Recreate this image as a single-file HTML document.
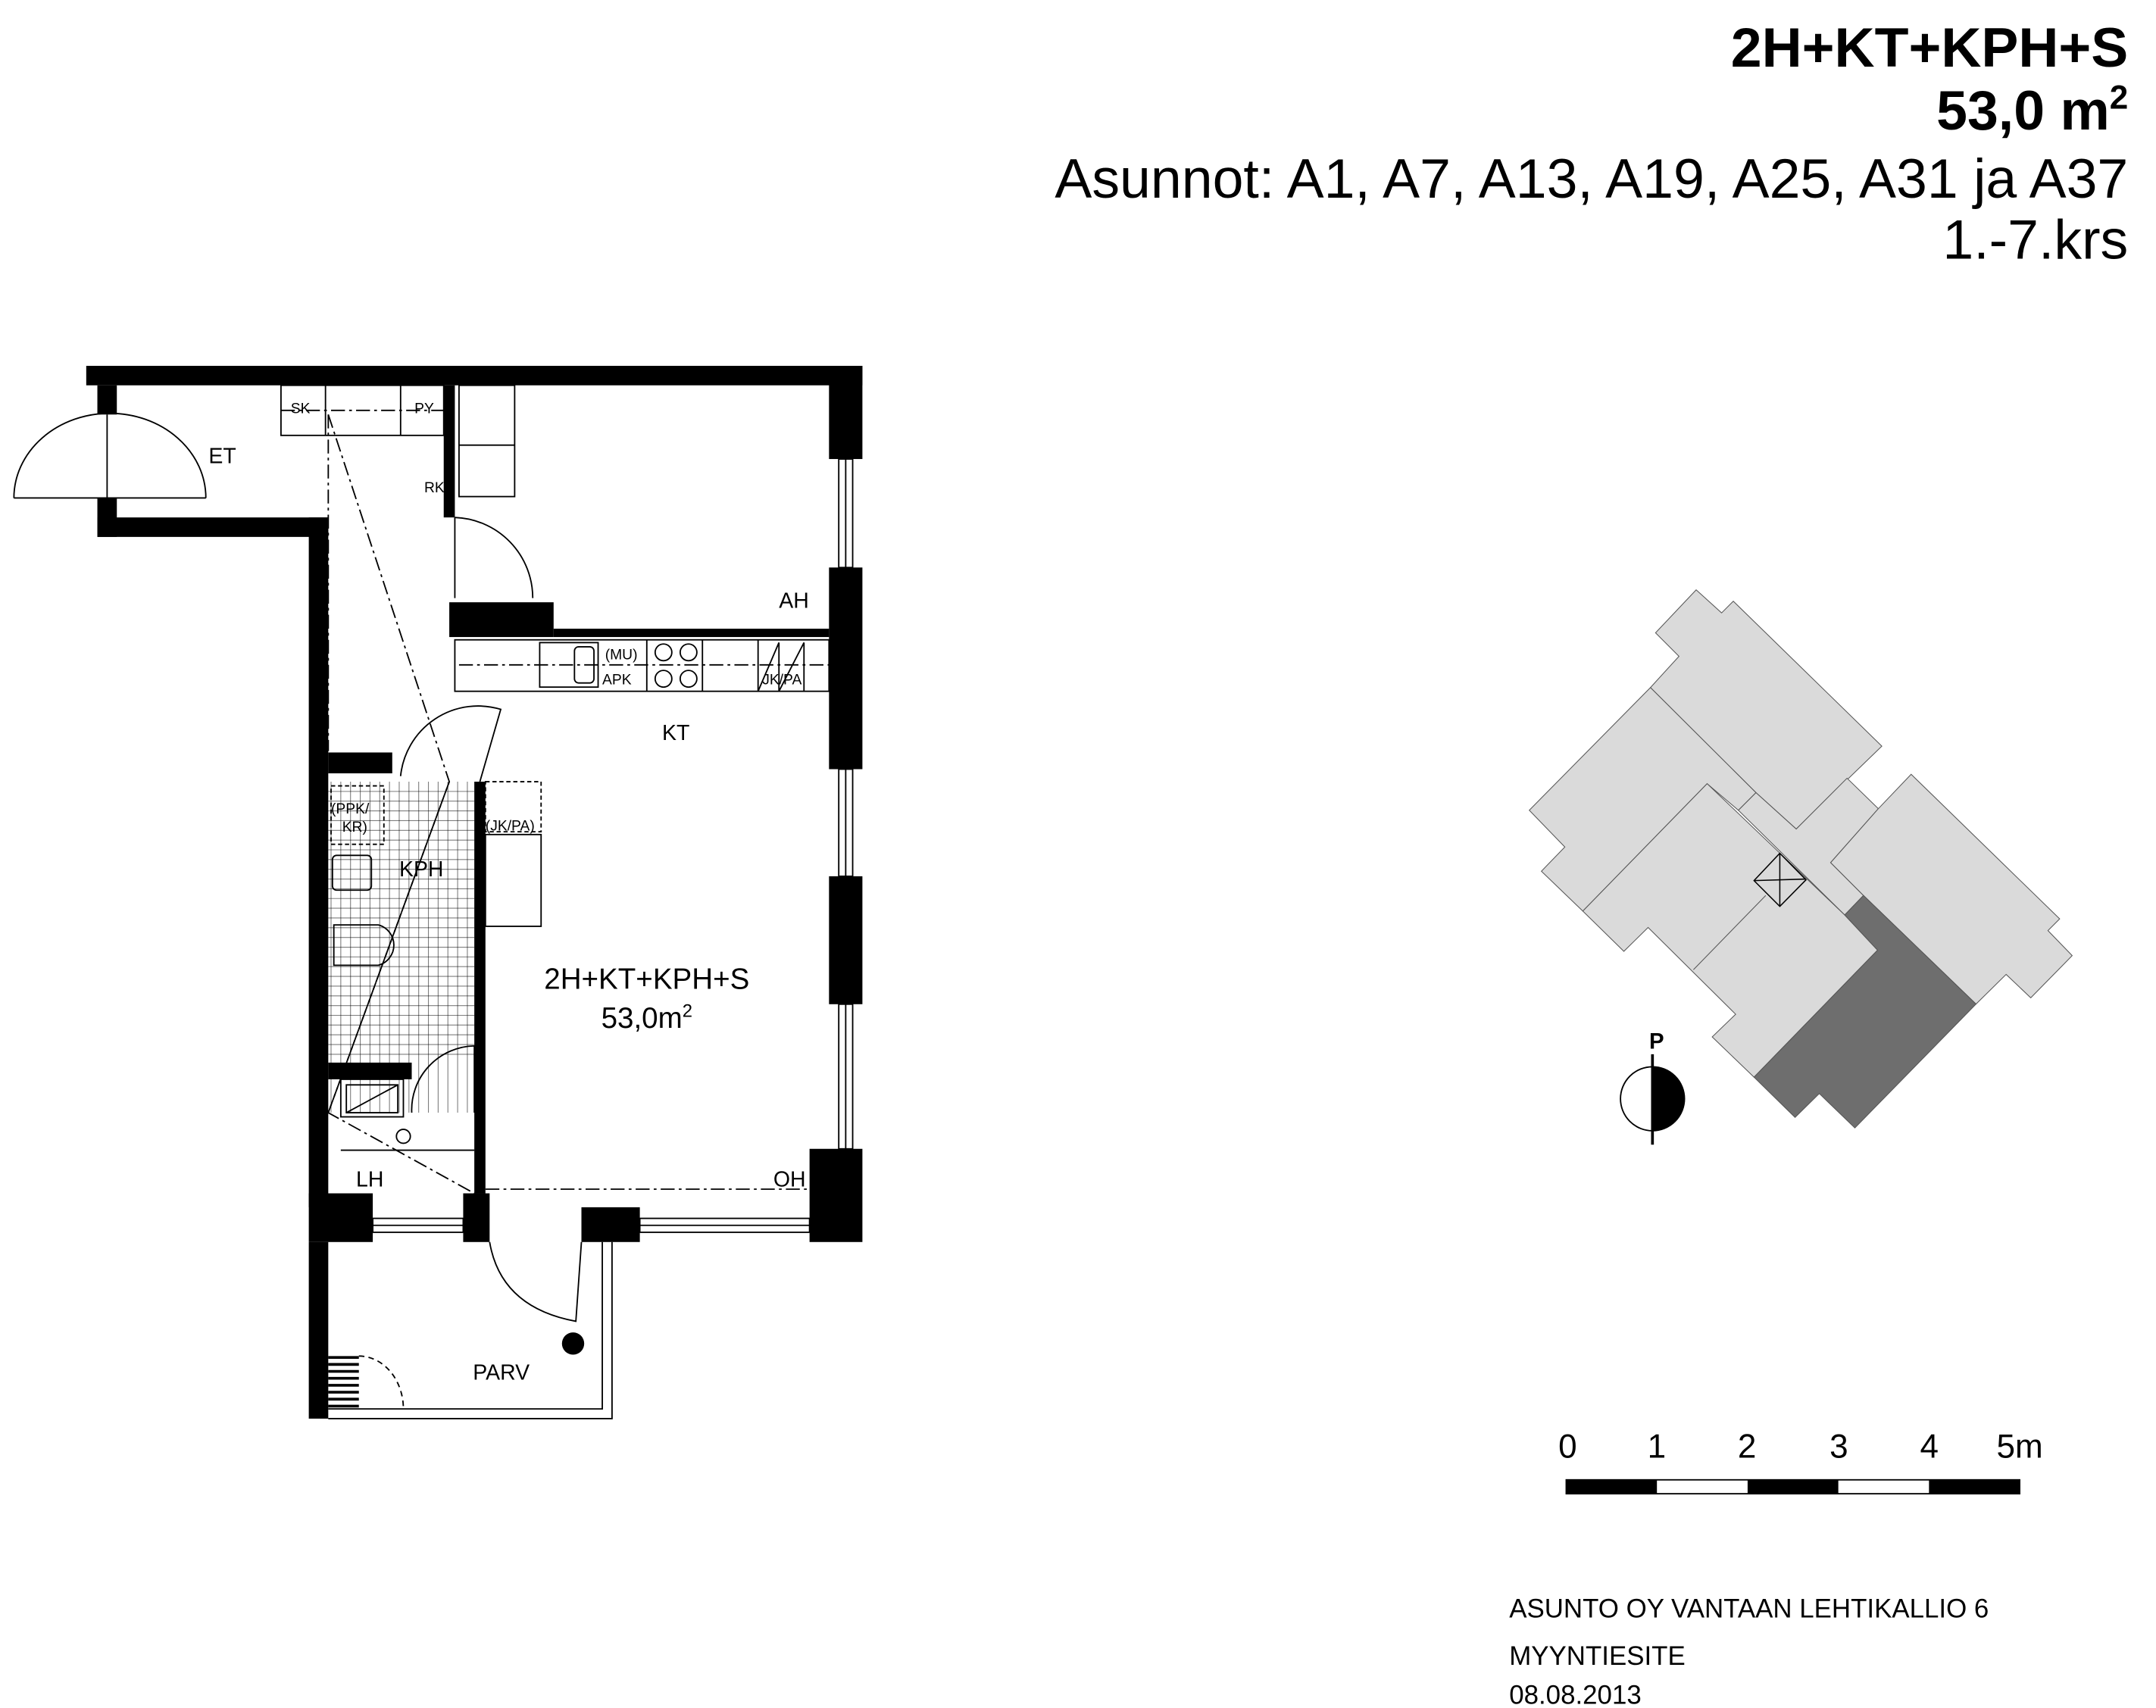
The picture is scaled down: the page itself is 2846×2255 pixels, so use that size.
<!DOCTYPE html>
<html><head><meta charset="utf-8"><style>html,body{margin:0;padding:0;background:#fff}svg{display:block}text{font-family:"Liberation Sans",sans-serif}</style></head>
<body>
<svg width="2846" height="2255" viewBox="0 0 1550 1228" xmlns="http://www.w3.org/2000/svg">
<rect width="1550" height="1228" fill="#fff"/>
<!-- Title -->
<g text-anchor="end" fill="#000">
<text x="1530" y="48" font-size="40" font-weight="bold">2H+KT+KPH+S</text>
<text x="1530" y="93" font-size="40" font-weight="bold">53,0 m<tspan font-size="24" dy="-15">2</tspan></text>
<text x="1530" y="142" font-size="40">Asunnot: A1, A7, A13, A19, A25, A31 ja A37</text>
<text x="1530" y="186" font-size="40">1.-7.krs</text>
</g>
<!-- Plan -->
<g fill="#000">
<rect x="62" y="263" width="558" height="14"/>
<rect x="596" y="263" width="24" height="67"/>
<rect x="596" y="408" width="24" height="145"/>
<rect x="596" y="630" width="24" height="92"/>
<rect x="582" y="826" width="38" height="67"/>
<rect x="70" y="277" width="14" height="21"/>
<rect x="70" y="358" width="14" height="28"/>
<rect x="70" y="372" width="166" height="14"/>
<rect x="222" y="372" width="14" height="496"/>
<rect x="222" y="858" width="46" height="35"/>
<rect x="222" y="893" width="14" height="127"/>
<rect x="236" y="541" width="46" height="15"/>
<rect x="341" y="562" width="8" height="296"/>
<rect x="333" y="858" width="19" height="35"/>
<rect x="418" y="868" width="42" height="25"/>
<rect x="323" y="433" width="75" height="25"/>
<rect x="398" y="452" width="198" height="6"/>
<rect x="319" y="277" width="8" height="95"/>
<rect x="236" y="764" width="60" height="12"/>
<circle cx="412" cy="966" r="8"/>
</g>
<g fill="none" stroke="#000" stroke-width="1">
<rect x="603" y="330" width="10" height="78"/><line x1="608" y1="330" x2="608" y2="408"/>
<rect x="603" y="553" width="10" height="77"/><line x1="608" y1="553" x2="608" y2="630"/>
<rect x="603" y="722" width="10" height="104"/><line x1="608" y1="722" x2="608" y2="826"/>
<rect x="268" y="876" width="65" height="10"/><line x1="268" y1="881" x2="333" y2="881"/>
<rect x="460" y="876" width="122" height="10"/><line x1="460" y1="881" x2="582" y2="881"/>
<path d="M10,358 A68,60 0 0 1 148,358"/><line x1="77" y1="298" x2="77" y2="358"/><line x1="10" y1="358" x2="148" y2="358"/>
<rect x="202" y="277" width="117" height="36"/><line x1="234" y1="277" x2="234" y2="313"/><line x1="288" y1="277" x2="288" y2="313"/>
<rect x="330" y="277" width="40" height="80"/><line x1="330" y1="320" x2="370" y2="320"/>
<path d="M327,372 A58,58 0 0 1 383,430"/><line x1="327" y1="372" x2="327" y2="430"/>
<path d="M288,558 A56,56 0 0 1 360,510 L345,562"/>
<path d="M296,800 A46,46 0 0 1 341,752 L341,800"/>
<path d="M352,893 Q360,940 414,950 L418,893"/>
<rect x="327" y="460" width="269" height="37"/>
<rect x="388" y="462" width="42" height="32"/><rect x="413" y="465" width="14" height="26" rx="3"/>
<line x1="465" y1="460" x2="465" y2="497"/><line x1="505" y1="460" x2="505" y2="497"/><line x1="545" y1="460" x2="545" y2="497"/>
<circle cx="477" cy="469" r="6"/><circle cx="495" cy="469" r="6"/><circle cx="477" cy="488" r="6"/><circle cx="495" cy="488" r="6"/>
<path d="M545,497 L560,462 L560,497 L578,462 L578,497"/>
<rect x="239" y="615" width="28" height="25" rx="3"/>
<path d="M240,665 L272,665 A15,15 0 0 1 272,694 L240,694 Z"/>
<rect x="349" y="600" width="40" height="66"/>
<rect x="245" y="776" width="45" height="27"/><path d="M249,780 L286,780 L286,800 L249,800 Z M249,800 L286,780"/>
<line x1="245" y1="827" x2="341" y2="827"/>
<circle cx="290" cy="817" r="5"/>
<path d="M236,1013 L433,1013 L433,893 M440,893 L440,1020 L236,1020"/>
<path d="M258,975 A32,38 0 0 1 290,1013" stroke-dasharray="4,3"/>
</g>
<g stroke="#000" stroke-width="0.6">
<path d="M238,562 V800 M245,562 V800 M252,562 V800 M259,562 V800 M266,562 V800 M273,562 V800 M280,562 V800 M287,562 V800 M294,562 V800 M301,562 V800 M308,562 V800 M315,562 V800 M322,562 V800 M329,562 V800 M336,562 V800" opacity="0.5"/>
<path d="M236,569 H341 M236,576 H341 M236,583 H341 M236,590 H341 M236,597 H341 M236,604 H341 M236,611 H341 M236,618 H341 M236,625 H341 M236,632 H341 M236,639 H341 M236,646 H341 M236,653 H341 M236,660 H341 M236,667 H341 M236,674 H341 M236,681 H341 M236,688 H341 M236,695 H341 M236,702 H341 M236,709 H341 M236,716 H341 M236,723 H341 M236,730 H341 M236,737 H341 M236,744 H341 M236,751 H341 M236,758 H341" opacity="0.5"/>
<path d="M236,976 H258 M236,981 H258 M236,986 H258 M236,991 H258 M236,996 H258 M236,1001 H258 M236,1006 H258 M236,1011 H258" stroke-width="2"/>
</g>
<g fill="none" stroke="#000" stroke-width="1" stroke-dasharray="10,3,2,3">
<path d="M236,298 L323,562 L236,800"/>
<path d="M236,298 L236,540"/>
<path d="M323,562 L236,800 L341,858"/>
<line x1="330" y1="478" x2="596" y2="478"/>
<line x1="349" y1="855" x2="596" y2="855"/>
<line x1="202" y1="295" x2="319" y2="295"/>
</g>
<g fill="none" stroke="#000" stroke-width="1" stroke-dasharray="3,2">
<rect x="238" y="565" width="38" height="42"/>
<rect x="349" y="562" width="40" height="36"/>
</g>
<g fill="#000" font-size="15.5">
<text x="150" y="333">ET</text>
<text x="560" y="437">AH</text>
<text x="476" y="532">KT</text>
<text x="287" y="630">KPH</text>
<text x="256" y="853">LH</text>
<text x="556" y="853">OH</text>
<text x="340" y="992">PARV</text>
<text x="465" y="711" font-size="21" text-anchor="middle">2H+KT+KPH+S</text>
<text x="465" y="739" font-size="21" text-anchor="middle">53,0m<tspan font-size="13" dy="-8">2</tspan></text>
<g font-size="10.5">
<text x="209" y="297">SK</text><text x="298" y="297">PY</text><text x="305" y="354">RK</text>
<text x="435" y="474">(MU)</text><text x="433" y="492">APK</text><text x="548" y="492">JK/PA</text>
<text x="238" y="585">(PPK/</text><text x="246" y="598">KR)</text><text x="349" y="597">(JK/PA)</text>
</g>
</g>
<!-- Site plan -->
<g transform="translate(1089.6,419) scale(0.281)" stroke="#555" stroke-width="2" fill="#dadada">
<polygon points="462,18 527,77 557,47 937,418 718,630 615,537 345,268 418,188 358,128"/>
<polygon points="345,268 615,537 570,582 490,514 172,840 66,738 126,676 35,582"/>
<polygon points="615,537 718,630 848,500 928,578 806,716 890,800 842,850 570,582"/>
<polygon points="490,514 842,850 926,940 610,1265 503,1162 563,1104 339,882 277,943 172,840"/>
<line x1="455" y1="990" x2="640" y2="800"/>
<polygon points="1012,490 1392,860 1362,890 1424,954 1318,1062 1255,1002 1178,1078 890,800 806,716 928,578"/>
<polygon points="890,800 1178,1078 868,1395 777,1307 715,1368 610,1265 926,940 842,850" fill="#6e6e6e"/>
<g stroke="#000" stroke-width="3" fill="none">
<polygon points="676,692 743,760 676,828 610,762"/><line x1="676" y1="692" x2="676" y2="828"/><line x1="610" y1="762" x2="743" y2="758"/>
</g>
</g>
<g>
<circle cx="1188" cy="790" r="23" fill="#fff" stroke="#000" stroke-width="1"/>
<path d="M1188,767 A23,23 0 0 1 1188,813 Z" fill="#000"/>
<line x1="1188" y1="758" x2="1188" y2="823" stroke="#000" stroke-width="2"/>
<text x="1191" y="754" font-size="16" font-weight="bold" text-anchor="middle">P</text>
</g>
<g>
<rect x="1126" y="1064" width="326" height="10" fill="#fff" stroke="#000" stroke-width="1"/>
<rect x="1126" y="1064" width="65.2" height="10" fill="#000"/>
<rect x="1256.4" y="1064" width="65.2" height="10" fill="#000"/>
<rect x="1386.8" y="1064" width="65.2" height="10" fill="#000"/>
<g font-size="24" text-anchor="middle">
<text x="1127" y="1048">0</text><text x="1191" y="1048">1</text><text x="1256" y="1048">2</text><text x="1322" y="1048">3</text><text x="1387" y="1048">4</text><text x="1452" y="1048">5m</text>
</g>
</g>
<g font-size="19">
<text x="1085" y="1163">ASUNTO OY VANTAAN LEHTIKALLIO 6</text>
<text x="1085" y="1197">MYYNTIESITE</text>
<text x="1085" y="1229" dy="-4">08.08.2013</text>
</g>
</svg>
</body></html>
